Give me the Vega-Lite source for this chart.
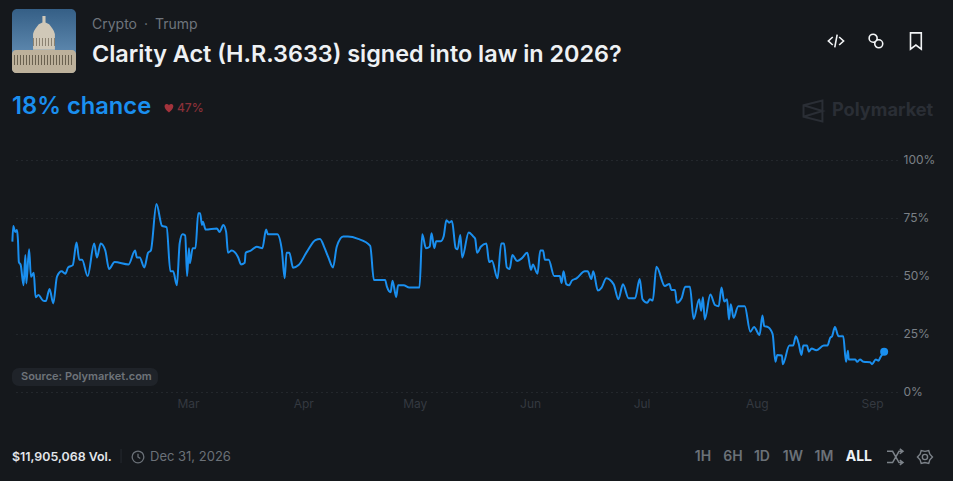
{
  "$schema": "https://vega.github.io/schema/vega-lite/v6.json",
  "description": "Polymarket odds for the Clarity Act being signed into law in 2026",
  "width": 885,
  "height": 232,
  "autosize": "none",
  "padding": {"left": 12, "top": 160, "right": 56, "bottom": 89},
  "background": "#15181c",
  "config": {"view": {"stroke": null}, "text": {"font": "Inter"}},
  "layer": [
    {
      "data": {"values": [
        {"date":"2026-01-12T18:00Z","pct":64.8},{"date":"2026-01-13T00:00Z","pct":71.6},{"date":"2026-01-13T12:00Z","pct":69},{"date":"2026-01-14T00:00Z","pct":69.8},{"date":"2026-01-14T06:00Z","pct":65.5},{"date":"2026-01-14T12:00Z","pct":56},{"date":"2026-01-15T00:00Z","pct":54.7},{"date":"2026-01-15T18:00Z","pct":46},{"date":"2026-01-16T06:00Z","pct":59},{"date":"2026-01-16T12:00Z","pct":46.8},{"date":"2026-01-17T06:00Z","pct":61.5},{"date":"2026-01-17T18:00Z","pct":49.7},{"date":"2026-01-18T12:00Z","pct":51.4},{"date":"2026-01-19T00:00Z","pct":40.8},{"date":"2026-01-19T18:00Z","pct":41.8},{"date":"2026-01-21T00:00Z","pct":39.4},{"date":"2026-01-21T18:00Z","pct":39.2},{"date":"2026-01-22T18:00Z","pct":44.4},{"date":"2026-01-23T18:00Z","pct":38.2},{"date":"2026-01-24T18:00Z","pct":49.7},{"date":"2026-01-26T00:00Z","pct":52},{"date":"2026-01-27T00:00Z","pct":51},{"date":"2026-01-27T18:00Z","pct":53.7},{"date":"2026-01-29T00:00Z","pct":54.7},{"date":"2026-01-30T00:00Z","pct":64.4},{"date":"2026-01-30T18:00Z","pct":57},{"date":"2026-01-31T12:00Z","pct":57},
        {"date":"2026-02-02T00:00Z","pct":50},{"date":"2026-02-03T18:00Z","pct":64},{"date":"2026-02-04T12:00Z","pct":58},{"date":"2026-02-05T12:00Z","pct":64},{"date":"2026-02-06T18:00Z","pct":61},{"date":"2026-02-07T18:00Z","pct":53},{"date":"2026-02-09T06:00Z","pct":56},{"date":"2026-02-13T00:00Z","pct":55},{"date":"2026-02-14T18:00Z","pct":61},{"date":"2026-02-15T06:00Z","pct":58},{"date":"2026-02-16T00:00Z","pct":58},{"date":"2026-02-17T06:00Z","pct":53.7},{"date":"2026-02-18T06:00Z","pct":60},{"date":"2026-02-19T00:00Z","pct":61},{"date":"2026-02-20T12:00Z","pct":81},{"date":"2026-02-22T00:00Z","pct":71.6},{"date":"2026-02-23T06:00Z","pct":71},{"date":"2026-02-24T06:00Z","pct":52},{"date":"2026-02-25T00:00Z","pct":52},{"date":"2026-02-26T00:00Z","pct":46},{"date":"2026-02-26T18:00Z","pct":64},{"date":"2026-02-27T12:00Z","pct":68},{"date":"2026-02-28T06:00Z","pct":67.5},{"date":"2026-02-28T18:00Z","pct":50},
        {"date":"2026-03-01T06:00Z","pct":62},{"date":"2026-03-01T12:00Z","pct":55.5},{"date":"2026-03-02T06:00Z","pct":62},{"date":"2026-03-03T00:00Z","pct":62},{"date":"2026-03-03T18:00Z","pct":77},{"date":"2026-03-04T06:00Z","pct":77},{"date":"2026-03-04T18:00Z","pct":72},{"date":"2026-03-05T00:00Z","pct":73.4},{"date":"2026-03-05T18:00Z","pct":70},{"date":"2026-03-08T18:00Z","pct":70.5},{"date":"2026-03-09T12:00Z","pct":69},{"date":"2026-03-10T12:00Z","pct":72},{"date":"2026-03-11T06:00Z","pct":69},{"date":"2026-03-11T18:00Z","pct":60},{"date":"2026-03-12T18:00Z","pct":61},{"date":"2026-03-14T12:00Z","pct":58},{"date":"2026-03-15T06:00Z","pct":55},{"date":"2026-03-16T06:00Z","pct":55.7},{"date":"2026-03-16T12:00Z","pct":60},{"date":"2026-03-17T18:00Z","pct":60.8},{"date":"2026-03-19T12:00Z","pct":62.6},{"date":"2026-03-21T00:00Z","pct":62},{"date":"2026-03-22T00:00Z","pct":70},{"date":"2026-03-22T12:00Z","pct":68},{"date":"2026-03-25T00:00Z","pct":68},{"date":"2026-03-26T06:00Z","pct":61},{"date":"2026-03-27T00:00Z","pct":49},{"date":"2026-03-27T12:00Z","pct":60},{"date":"2026-03-28T06:00Z","pct":60},{"date":"2026-03-29T06:00Z","pct":53.6},{"date":"2026-03-30T18:00Z","pct":54.7},
        {"date":"2026-04-02T00:00Z","pct":60.5},{"date":"2026-04-04T06:00Z","pct":65.5},{"date":"2026-04-05T12:00Z","pct":66},{"date":"2026-04-06T18:00Z","pct":62},{"date":"2026-04-07T18:00Z","pct":58},{"date":"2026-04-09T00:00Z","pct":53.7},{"date":"2026-04-10T00:00Z","pct":62.6},{"date":"2026-04-11T18:00Z","pct":67},{"date":"2026-04-13T00:00Z","pct":67},{"date":"2026-04-15T18:00Z","pct":66},{"date":"2026-04-19T00:00Z","pct":63},{"date":"2026-04-20T00:00Z","pct":48.3},{"date":"2026-04-23T00:00Z","pct":48.3},{"date":"2026-04-23T12:00Z","pct":45.4},{"date":"2026-04-24T12:00Z","pct":43},{"date":"2026-04-25T00:00Z","pct":48},{"date":"2026-04-26T00:00Z","pct":41},{"date":"2026-04-26T12:00Z","pct":46},{"date":"2026-04-28T00:00Z","pct":46},{"date":"2026-04-29T12:00Z","pct":45},
        {"date":"2026-05-02T06:00Z","pct":45},{"date":"2026-05-03T00:00Z","pct":68},{"date":"2026-05-04T00:00Z","pct":62},{"date":"2026-05-05T00:00Z","pct":62.6},{"date":"2026-05-05T12:00Z","pct":68.4},{"date":"2026-05-06T06:00Z","pct":62},{"date":"2026-05-06T18:00Z","pct":65},{"date":"2026-05-08T00:00Z","pct":65},{"date":"2026-05-08T18:00Z","pct":67},{"date":"2026-05-09T12:00Z","pct":74},{"date":"2026-05-10T06:00Z","pct":73},{"date":"2026-05-11T00:00Z","pct":73.7},{"date":"2026-05-12T00:00Z","pct":62},{"date":"2026-05-12T12:00Z","pct":61.5},{"date":"2026-05-13T06:00Z","pct":67.7},{"date":"2026-05-13T18:00Z","pct":58},{"date":"2026-05-15T12:00Z","pct":68.8},{"date":"2026-05-16T18:00Z","pct":67},{"date":"2026-05-17T06:00Z","pct":66},{"date":"2026-05-17T18:00Z","pct":60},{"date":"2026-05-18T18:00Z","pct":62.6},{"date":"2026-05-20T06:00Z","pct":64},{"date":"2026-05-21T00:00Z","pct":56},{"date":"2026-05-21T18:00Z","pct":56.6},{"date":"2026-05-23T06:00Z","pct":49},{"date":"2026-05-24T06:00Z","pct":64},{"date":"2026-05-25T00:00Z","pct":64},{"date":"2026-05-25T18:00Z","pct":53.7},{"date":"2026-05-26T12:00Z","pct":53},{"date":"2026-05-27T06:00Z","pct":59},{"date":"2026-05-28T12:00Z","pct":56.5},{"date":"2026-05-29T18:00Z","pct":57.6},{"date":"2026-05-31T06:00Z","pct":60},
        {"date":"2026-06-01T06:00Z","pct":52.6},{"date":"2026-06-01T18:00Z","pct":55},{"date":"2026-06-03T00:00Z","pct":51},{"date":"2026-06-03T18:00Z","pct":61},{"date":"2026-06-04T12:00Z","pct":61},{"date":"2026-06-05T00:00Z","pct":57},{"date":"2026-06-06T00:00Z","pct":57},{"date":"2026-06-07T12:00Z","pct":50},{"date":"2026-06-09T00:00Z","pct":50},{"date":"2026-06-09T12:00Z","pct":47},{"date":"2026-06-10T00:00Z","pct":52},{"date":"2026-06-10T18:00Z","pct":46.5},{"date":"2026-06-11T12:00Z","pct":46},{"date":"2026-06-12T06:00Z","pct":48},{"date":"2026-06-13T12:00Z","pct":49},{"date":"2026-06-15T18:00Z","pct":52},{"date":"2026-06-16T12:00Z","pct":52},{"date":"2026-06-17T12:00Z","pct":48.7},{"date":"2026-06-18T00:00Z","pct":52},{"date":"2026-06-19T06:00Z","pct":43.7},{"date":"2026-06-20T06:00Z","pct":45},{"date":"2026-06-21T12:00Z","pct":49},{"date":"2026-06-23T12:00Z","pct":46.4},{"date":"2026-06-24T18:00Z","pct":40},{"date":"2026-06-26T00:00Z","pct":46.4},{"date":"2026-06-27T12:00Z","pct":40.4},{"date":"2026-06-29T06:00Z","pct":40.4},{"date":"2026-06-30T12:00Z","pct":48.7},
        {"date":"2026-07-01T06:00Z","pct":40},{"date":"2026-07-02T12:00Z","pct":38.5},{"date":"2026-07-03T06:00Z","pct":40},{"date":"2026-07-04T00:00Z","pct":39.4},{"date":"2026-07-05T00:00Z","pct":54},{"date":"2026-07-07T06:00Z","pct":45.7},{"date":"2026-07-08T12:00Z","pct":46.6},{"date":"2026-07-09T00:00Z","pct":44},{"date":"2026-07-10T00:00Z","pct":44},{"date":"2026-07-10T12:00Z","pct":38.5},{"date":"2026-07-11T18:00Z","pct":40.4},{"date":"2026-07-12T18:00Z","pct":45.4},{"date":"2026-07-14T00:00Z","pct":45.4},{"date":"2026-07-15T00:00Z","pct":31.5},{"date":"2026-07-16T12:00Z","pct":40},{"date":"2026-07-17T00:00Z","pct":35},{"date":"2026-07-17T12:00Z","pct":40.8},{"date":"2026-07-18T00:00Z","pct":31.3},{"date":"2026-07-19T12:00Z","pct":42},{"date":"2026-07-20T18:00Z","pct":37.5},{"date":"2026-07-21T18:00Z","pct":37},{"date":"2026-07-22T12:00Z","pct":45},{"date":"2026-07-23T06:00Z","pct":39},{"date":"2026-07-24T00:00Z","pct":40},{"date":"2026-07-24T12:00Z","pct":31.3},{"date":"2026-07-25T00:00Z","pct":37.8},{"date":"2026-07-25T18:00Z","pct":32},{"date":"2026-07-27T00:00Z","pct":37},{"date":"2026-07-28T18:00Z","pct":37},{"date":"2026-07-30T06:00Z","pct":26},{"date":"2026-07-31T06:00Z","pct":28},
        {"date":"2026-08-01T18:00Z","pct":24.6},{"date":"2026-08-02T12:00Z","pct":33},{"date":"2026-08-03T00:00Z","pct":28.4},{"date":"2026-08-04T00:00Z","pct":28},{"date":"2026-08-05T06:00Z","pct":25},{"date":"2026-08-06T00:00Z","pct":13},{"date":"2026-08-06T12:00Z","pct":16},{"date":"2026-08-07T18:00Z","pct":15.7},{"date":"2026-08-08T00:00Z","pct":12},{"date":"2026-08-09T18:00Z","pct":20},{"date":"2026-08-10T18:00Z","pct":20},{"date":"2026-08-11T12:00Z","pct":24},{"date":"2026-08-12T06:00Z","pct":21},{"date":"2026-08-13T00:00Z","pct":16},{"date":"2026-08-13T12:00Z","pct":20},{"date":"2026-08-14T12:00Z","pct":20},{"date":"2026-08-15T00:00Z","pct":17.4},{"date":"2026-08-15T18:00Z","pct":18.8},{"date":"2026-08-17T00:00Z","pct":18},{"date":"2026-08-19T00:00Z","pct":20},{"date":"2026-08-20T00:00Z","pct":20},{"date":"2026-08-20T18:00Z","pct":23.4},{"date":"2026-08-21T06:00Z","pct":24},{"date":"2026-08-22T00:00Z","pct":28},{"date":"2026-08-23T00:00Z","pct":24},{"date":"2026-08-24T06:00Z","pct":24},{"date":"2026-08-25T00:00Z","pct":13},{"date":"2026-08-25T12:00Z","pct":17.8},{"date":"2026-08-25T18:00Z","pct":14},{"date":"2026-08-27T12:00Z","pct":14},{"date":"2026-08-28T00:00Z","pct":13},{"date":"2026-08-28T18:00Z","pct":14},{"date":"2026-08-29T18:00Z","pct":13},{"date":"2026-08-31T12:00Z","pct":12.8},
        {"date":"2026-09-01T00:00Z","pct":12},{"date":"2026-09-02T00:00Z","pct":14},{"date":"2026-09-02T18:00Z","pct":13.5},{"date":"2026-09-03T06:00Z","pct":15},{"date":"2026-09-04T06:00Z","pct":17.4}
      ]},
      "mark": {"type": "line", "color": "#1a8fef", "strokeWidth": 2, "interpolate": "monotone"},
      "encoding": {
        "x": {
          "field": "date",
          "type": "temporal",
          "title": null,
          "scale": {"type": "utc", "domain": [{"year": 2026, "month": 1, "date": 12, "hours": 15, "minutes": 36, "utc": true}, {"year": 2026, "month": 9, "date": 7, "hours": 17, "utc": true}]},
          "axis": {
            "values": ["2026-03-01T00:00:00Z", "2026-04-01T00:00:00Z", "2026-05-01T00:00:00Z", "2026-06-01T00:00:00Z", "2026-07-01T00:00:00Z", "2026-08-01T00:00:00Z", "2026-09-01T00:00:00Z"],
            "format": "%b",
            "domain": false,
            "ticks": false,
            "grid": false,
            "labelColor": "#343940",
            "labelFont": "Inter",
            "labelFontSize": 12,
            "labelPadding": 6
          }
        },
        "y": {
          "field": "pct",
          "type": "quantitative",
          "title": null,
          "scale": {"domain": [0, 100], "nice": false},
          "axis": {
            "orient": "right",
            "values": [0, 25, 50, 75, 100],
            "labelExpr": "datum.value + '%'",
            "domain": false,
            "ticks": false,
            "grid": true,
            "gridColor": "#32373d",
            "gridDash": [1, 4],
            "labelColor": "#7b8087",
            "labelFont": "Inter",
            "labelFontSize": 12,
            "labelPadding": 6,
            "labelOffset": -1
          }
        }
      }
    },
    {
      "data": {"values": [{"date": "2026-09-04T06:00Z", "pct": 17.4}]},
      "mark": {"type": "point", "filled": true, "opacity": 1, "color": "#1a8fef", "size": 64},
      "encoding": {
        "x": {"field": "date", "type": "temporal"},
        "y": {"field": "pct", "type": "quantitative"}
      }
    },
    {
      "data": {"values": [{}]},
      "mark": {"type": "rect", "cornerRadius": 5, "fill": {"gradient": "linear", "x1": 0, "y1": 0, "x2": 0, "y2": 1, "stops": [{"offset": 0, "color": "#355f86"}, {"offset": 1, "color": "#6f9ac0"}]}},
      "encoding": {
        "x": {"datum": {"year": 2026, "month": 1, "date": 12, "hours": 15, "minutes": 36, "utc": true}, "type": "temporal"},
        "x2": {"datum": {"year": 2026, "month": 1, "date": 29, "hours": 20, "minutes": 40, "utc": true}},
        "y": {"datum": 165.1, "type": "quantitative"},
        "y2": {"datum": 137.5}
      }
    },
    {
      "data": {"values": [{}]},
      "mark": {"type": "point", "filled": true, "opacity": 1, "color": "#d0c8b8", "size": 2704, "shape": "M-0.06 -1L0.06 -1L0.06 -0.75L0.2 -0.68C0.35 -0.5 0.4 -0.4 0.42 -0.3L0.42 0.3L-0.42 0.3L-0.42 -0.3C-0.4 -0.4 -0.35 -0.5 -0.2 -0.68L-0.06 -0.75Z"},
      "encoding": {
        "x": {"datum": {"year": 2026, "month": 1, "date": 21, "hours": 6, "utc": true}, "type": "temporal"},
        "y": {"datum": 150.9, "type": "quantitative"}
      }
    },
    {
      "data": {"values": [{}]},
      "mark": {"type": "rect", "cornerRadius": 4, "color": "#bdb19b"},
      "encoding": {
        "x": {"datum": {"year": 2026, "month": 1, "date": 12, "hours": 15, "minutes": 36, "utc": true}, "type": "temporal"},
        "x2": {"datum": {"year": 2026, "month": 1, "date": 29, "hours": 20, "minutes": 40, "utc": true}},
        "y": {"datum": 147.4, "type": "quantitative"},
        "y2": {"datum": 137.5}
      }
    },
    {
      "data": {"values": [{}]},
      "mark": {"type": "rule", "color": "#6a614f", "strokeWidth": 10, "strokeDash": [1, 2]},
      "encoding": {
        "x": {"datum": {"year": 2026, "month": 1, "date": 13, "hours": 4, "minutes": 30, "utc": true}, "type": "temporal"},
        "x2": {"datum": {"year": 2026, "month": 1, "date": 29, "hours": 7, "minutes": 40, "utc": true}},
        "y": {"datum": 143.1, "type": "quantitative"}
      }
    },
    {
      "data": {"values": [{}]},
      "mark": {"type": "rule", "color": "#8a8170", "strokeWidth": 8, "strokeDash": [1, 2]},
      "encoding": {
        "x": {"datum": {"year": 2026, "month": 1, "date": 18, "hours": 7, "utc": true}, "type": "temporal"},
        "x2": {"datum": {"year": 2026, "month": 1, "date": 24, "hours": 5, "utc": true}},
        "y": {"datum": 150.9, "type": "quantitative"}
      }
    },
    {
      "data": {"values": [{"label": "Crypto\u2002·\u2002Trump"}]},
      "mark": {"type": "text", "align": "left", "baseline": "middle", "font": "Inter", "fontSize": 14, "color": "#6f757c"},
      "encoding": {
        "text": {"field": "label"},
        "x": {"datum": {"year": 2026, "month": 2, "date": 3, "hours": 4, "utc": true}, "type": "temporal"},
        "y": {"datum": 158.2, "type": "quantitative"}
      }
    },
    {
      "data": {"values": [{"label": "Clarity Act (H.R.3633) signed into law in 2026?"}]},
      "mark": {"type": "text", "align": "left", "baseline": "middle", "font": "Inter", "fontSize": 23.4, "fontWeight": 600, "color": "#eef1f4"},
      "encoding": {
        "text": {"field": "label"},
        "x": {"datum": {"year": 2026, "month": 2, "date": 3, "hours": 4, "utc": true}, "type": "temporal"},
        "y": {"datum": 145.3, "type": "quantitative"}
      }
    },
    {
      "data": {"values": [{"label": "18% chance"}]},
      "mark": {"type": "text", "align": "left", "baseline": "middle", "font": "Inter", "fontSize": 23.7, "fontWeight": 600, "color": "#1a8fef"},
      "encoding": {
        "text": {"field": "label"},
        "x": {"datum": {"year": 2026, "month": 1, "date": 12, "hours": 15, "minutes": 36, "utc": true}, "type": "temporal"},
        "y": {"datum": 122.8, "type": "quantitative"}
      }
    },
    {
      "data": {"values": [{}]},
      "mark": {"type": "point", "filled": true, "opacity": 1, "color": "#a3333c", "size": 100, "shape": "M0 0.9C-1.3 -0.1 -0.9 -0.9 -0.4 -0.8C-0.2 -0.8 0 -0.6 0 -0.5C0 -0.6 0.2 -0.8 0.4 -0.8C0.9 -0.9 1.3 -0.1 0 0.9Z"},
      "encoding": {
        "x": {"datum": {"year": 2026, "month": 2, "date": 23, "hours": 21, "utc": true}, "type": "temporal"},
        "y": {"datum": 122.4, "type": "quantitative"}
      }
    },
    {
      "data": {"values": [{"label": "47%"}]},
      "mark": {"type": "text", "align": "left", "baseline": "middle", "font": "Inter", "fontSize": 12, "fontWeight": 500, "color": "#8a3038"},
      "encoding": {
        "text": {"field": "label"},
        "x": {"datum": {"year": 2026, "month": 2, "date": 26, "hours": 0, "minutes": 43, "utc": true}, "type": "temporal"},
        "y": {"datum": 122.4, "type": "quantitative"}
      }
    },
    {
      "data": {"values": [{}]},
      "mark": {"type": "point", "filled": false, "opacity": 1, "color": "#2a2e35", "strokeWidth": 2, "size": 441, "shape": "M-0.9 -0.55L0.9 -1L0.9 1L-0.9 0.55ZM-0.9 -0.55L0.9 0L-0.9 0.55"},
      "encoding": {
        "x": {"datum": {"year": 2026, "month": 8, "date": 16, "hours": 2, "minutes": 30, "utc": true}, "type": "temporal"},
        "y": {"datum": 121.1, "type": "quantitative"}
      }
    },
    {
      "data": {"values": [{"label": "Polymarket"}]},
      "mark": {"type": "text", "align": "left", "baseline": "middle", "font": "Inter", "fontSize": 18.2, "fontWeight": 700, "color": "#2a2e35"},
      "encoding": {
        "text": {"field": "label"},
        "x": {"datum": {"year": 2026, "month": 8, "date": 21, "hours": 5, "utc": true}, "type": "temporal"},
        "y": {"datum": 121.1, "type": "quantitative"}
      }
    },
    {
      "data": {"values": [{}]},
      "mark": {"type": "point", "filled": false, "opacity": 1, "color": "#f2f4f6", "strokeWidth": 1.6, "size": 256, "shape": "M-0.4 -0.5L-0.95 0L-0.4 0.5M0.4 -0.5L0.95 0L0.4 0.5M0.15 -0.8L-0.15 0.8"},
      "encoding": {
        "x": {"datum": {"year": 2026, "month": 8, "date": 22, "hours": 7, "utc": true}, "type": "temporal"},
        "y": {"datum": 151.3, "type": "quantitative"}
      }
    },
    {
      "data": {"values": [{}]},
      "mark": {"type": "point", "filled": false, "opacity": 1, "color": "#f2f4f6", "strokeWidth": 1.6, "size": 256, "shape": "M-0.85 -0.35A0.5 0.5 0 1 1 0.15 -0.35A0.5 0.5 0 1 1 -0.85 -0.35ZM-0.15 0.35A0.5 0.5 0 1 1 0.85 0.35A0.5 0.5 0 1 1 -0.15 0.35Z"},
      "encoding": {
        "x": {"datum": {"year": 2026, "month": 9, "date": 2, "hours": 1, "utc": true}, "type": "temporal"},
        "y": {"datum": 151.3, "type": "quantitative"}
      }
    },
    {
      "data": {"values": [{}]},
      "mark": {"type": "point", "filled": false, "opacity": 1, "color": "#f2f4f6", "strokeWidth": 1.6, "size": 324, "shape": "M-0.6 -0.9L0.6 -0.9L0.6 0.9L0 0.45L-0.6 0.9Z"},
      "encoding": {
        "x": {"datum": {"year": 2026, "month": 9, "date": 12, "hours": 19, "utc": true}, "type": "temporal"},
        "y": {"datum": 151.3, "type": "quantitative"}
      }
    },
    {
      "data": {"values": [{}]},
      "mark": {"type": "rect", "cornerRadius": 7, "color": "#1f2329"},
      "encoding": {
        "x": {"datum": {"year": 2026, "month": 1, "date": 12, "hours": 15, "minutes": 36, "utc": true}, "type": "temporal"},
        "x2": {"datum": {"year": 2026, "month": 2, "date": 20, "hours": 22, "utc": true}},
        "y": {"datum": 10.34, "type": "quantitative"},
        "y2": {"datum": 2.59}
      }
    },
    {
      "data": {"values": [{"label": "Source: Polymarket.com"}]},
      "mark": {"type": "text", "align": "left", "baseline": "middle", "font": "Inter", "fontSize": 11, "fontWeight": 600, "color": "#6e7379"},
      "encoding": {
        "text": {"field": "label"},
        "x": {"datum": {"year": 2026, "month": 1, "date": 15, "hours": 1, "minutes": 40, "utc": true}, "type": "temporal"},
        "y": {"datum": 6.47, "type": "quantitative"}
      }
    },
    {
      "data": {"values": [{"label": "$11,905,068 Vol."}]},
      "mark": {"type": "text", "align": "left", "baseline": "middle", "font": "Inter", "fontSize": 12.4, "fontWeight": 600, "color": "#e3e6ea"},
      "encoding": {
        "text": {"field": "label"},
        "x": {"datum": {"year": 2026, "month": 1, "date": 12, "hours": 15, "minutes": 36, "utc": true}, "type": "temporal"},
        "y": {"datum": -28, "type": "quantitative"}
      }
    },
    {
      "data": {"values": [{}]},
      "mark": {"type": "rule", "color": "#262a30"},
      "encoding": {
        "x": {"datum": {"year": 2026, "month": 2, "date": 10, "hours": 23, "minutes": 30, "utc": true}, "type": "temporal"},
        "y": {"datum": -24.6, "type": "quantitative"},
        "y2": {"datum": -30.6}
      }
    },
    {
      "data": {"values": [{}]},
      "mark": {"type": "point", "filled": false, "opacity": 1, "color": "#6b7178", "strokeWidth": 1.3, "size": 169, "shape": "M-0.9 0A0.9 0.9 0 1 1 0.9 0A0.9 0.9 0 1 1 -0.9 0ZM0 -0.5L0 0L0.35 0.25"},
      "encoding": {
        "x": {"datum": {"year": 2026, "month": 2, "date": 15, "hours": 13, "utc": true}, "type": "temporal"},
        "y": {"datum": -28, "type": "quantitative"}
      }
    },
    {
      "data": {"values": [{"label": "Dec 31, 2026"}]},
      "mark": {"type": "text", "align": "left", "baseline": "middle", "font": "Inter", "fontSize": 13, "color": "#6b7178"},
      "encoding": {
        "text": {"field": "label"},
        "x": {"datum": {"year": 2026, "month": 2, "date": 18, "hours": 18, "minutes": 30, "utc": true}, "type": "temporal"},
        "y": {"datum": -28, "type": "quantitative"}
      }
    },
    {
      "data": {"values": [{"label": "1H"}]},
      "mark": {"type": "text", "align": "center", "baseline": "middle", "font": "Inter", "fontSize": 14, "fontWeight": 600, "color": "#6b7178"},
      "encoding": {
        "text": {"field": "label"},
        "x": {"datum": {"year": 2026, "month": 7, "date": 17, "hours": 12, "utc": true}, "type": "temporal"},
        "y": {"datum": -28, "type": "quantitative"}
      }
    },
    {
      "data": {"values": [{"label": "6H"}]},
      "mark": {"type": "text", "align": "center", "baseline": "middle", "font": "Inter", "fontSize": 14, "fontWeight": 600, "color": "#6b7178"},
      "encoding": {
        "text": {"field": "label"},
        "x": {"datum": {"year": 2026, "month": 7, "date": 25, "hours": 13, "minutes": 40, "utc": true}, "type": "temporal"},
        "y": {"datum": -28, "type": "quantitative"}
      }
    },
    {
      "data": {"values": [{"label": "1D"}]},
      "mark": {"type": "text", "align": "center", "baseline": "middle", "font": "Inter", "fontSize": 14, "fontWeight": 600, "color": "#6b7178"},
      "encoding": {
        "text": {"field": "label"},
        "x": {"datum": {"year": 2026, "month": 8, "date": 2, "hours": 9, "utc": true}, "type": "temporal"},
        "y": {"datum": -28, "type": "quantitative"}
      }
    },
    {
      "data": {"values": [{"label": "1W"}]},
      "mark": {"type": "text", "align": "center", "baseline": "middle", "font": "Inter", "fontSize": 14, "fontWeight": 600, "color": "#6b7178"},
      "encoding": {
        "text": {"field": "label"},
        "x": {"datum": {"year": 2026, "month": 8, "date": 10, "hours": 17, "utc": true}, "type": "temporal"},
        "y": {"datum": -28, "type": "quantitative"}
      }
    },
    {
      "data": {"values": [{"label": "1M"}]},
      "mark": {"type": "text", "align": "center", "baseline": "middle", "font": "Inter", "fontSize": 14, "fontWeight": 600, "color": "#6b7178"},
      "encoding": {
        "text": {"field": "label"},
        "x": {"datum": {"year": 2026, "month": 8, "date": 19, "hours": 1, "minutes": 30, "utc": true}, "type": "temporal"},
        "y": {"datum": -28, "type": "quantitative"}
      }
    },
    {
      "data": {"values": [{"label": "ALL"}]},
      "mark": {"type": "text", "align": "center", "baseline": "middle", "font": "Inter", "fontSize": 14, "fontWeight": 700, "color": "#eef1f4"},
      "encoding": {
        "text": {"field": "label"},
        "x": {"datum": {"year": 2026, "month": 8, "date": 28, "hours": 11, "utc": true}, "type": "temporal"},
        "y": {"datum": -28, "type": "quantitative"}
      }
    },
    {
      "data": {"values": [{}]},
      "mark": {"type": "point", "filled": false, "opacity": 1, "color": "#7c8289", "strokeWidth": 1.5, "size": 256, "shape": "M-1 -0.7L-0.3 -0.7L0.5 0.7L1 0.7M-1 0.7L-0.3 0.7L0.5 -0.7L1 -0.7M0.6 -1L1 -0.7L0.6 -0.4M0.6 0.4L1 0.7L0.6 1"},
      "encoding": {
        "x": {"datum": {"year": 2026, "month": 9, "date": 7, "hours": 4, "utc": true}, "type": "temporal"},
        "y": {"datum": -28, "type": "quantitative"}
      }
    },
    {
      "data": {"values": [{}]},
      "mark": {"type": "point", "filled": false, "opacity": 1, "color": "#7c8289", "strokeWidth": 1.4, "size": 225, "shape": "M1 0L0.65 0.375L0.5 0.866L0 0.75L-0.5 0.866L-0.65 0.375L-1 0L-0.65 -0.375L-0.5 -0.866L0 -0.75L0.5 -0.866L0.65 -0.375ZM-0.35 0A0.35 0.35 0 1 1 0.35 0A0.35 0.35 0 1 1 -0.35 0Z"},
      "encoding": {
        "x": {"datum": {"year": 2026, "month": 9, "date": 15, "hours": 5, "minutes": 30, "utc": true}, "type": "temporal"},
        "y": {"datum": -28, "type": "quantitative"}
      }
    }
  ]
}
